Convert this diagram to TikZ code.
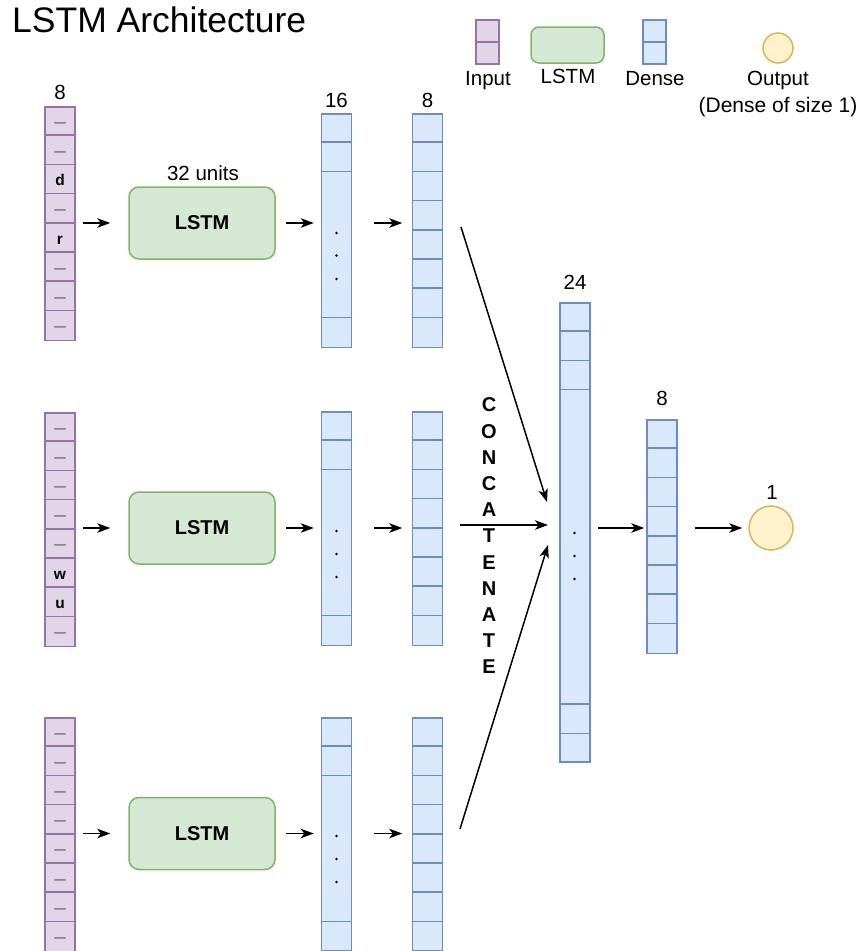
\documentclass[tikz,border=0pt]{standalone}
\usepackage{fontspec}
\setmainfont{Liberation Sans}
\usetikzlibrary{arrows.meta}
\definecolor{inFill}{HTML}{E1D5E7}
\definecolor{inDraw}{HTML}{9673A6}
\definecolor{lsFill}{HTML}{D5E8D4}
\definecolor{lsDraw}{HTML}{82B366}
\definecolor{dFill}{HTML}{DAE8FC}
\definecolor{dDraw}{HTML}{6C8EBF}
\definecolor{oFill}{HTML}{FFF2CC}
\definecolor{oDraw}{HTML}{D6B656}
\definecolor{dashGray}{HTML}{5E5E5E}
\begin{document}
\begin{tikzpicture}[x=1pt,y=-1pt,
  font=\fontsize{20.5}{24}\selectfont,
  col/.style={draw, line width=1.5pt, minimum width=30pt, inner sep=0pt, anchor=north},
  incol/.style={col, draw=inDraw, fill=inFill, minimum height=233.6pt},
  dcol/.style={col, draw=dDraw, fill=dFill},
  inline/.style={draw=inDraw, line width=1.5pt},
  dline/.style={draw=dDraw, line width=1.5pt},
  lstmbox/.style={draw=lsDraw, fill=lsFill, line width=1.5pt, rounded corners=10pt,
    minimum width=146pt, minimum height=72pt, inner sep=0pt,
    font=\fontsize{20}{24}\selectfont\bfseries},
  outcirc/.style={circle, draw=oDraw, fill=oFill, line width=1.5pt, inner sep=0pt},
  lbl/.style={anchor=base, inner sep=0pt},
  dashtxt/.style={anchor=base, inner sep=0pt, text=dashGray, font=\fontsize{11.5}{12}\selectfont\bfseries},
  celltxt/.style={anchor=base, inner sep=0pt, font=\fontsize{15.5}{16}\selectfont\bfseries},
  dotnode/.style={circle, fill=black, inner sep=0pt, minimum size=2.8pt},
  arr/.style={-{Stealth[length=13pt,width=9.5pt,inset=3.5pt]}, line width=1.5pt},
]
\useasboundingbox (0,0) rectangle (865,951);

% Title
\node[anchor=base west, inner sep=0pt, font=\fontsize{35.5}{40}\selectfont] (title) at (12,32) {LSTM Architecture};

% Legend
\node[col, draw=inDraw, fill=inFill, minimum width=23pt, minimum height=44pt] (legIn) at (487.5,19) {};
\draw[inline] (legIn.west) -- (legIn.east);
\node[draw=lsDraw, fill=lsFill, line width=1.5pt, rounded corners=8pt, minimum width=73pt, minimum height=36pt, inner sep=0pt] (legLstm) at (567.5,45) {};
\node[col, draw=dDraw, fill=dFill, minimum width=23pt, minimum height=44pt] (legD) at (654.5,19) {};
\draw[dline] (legD.west) -- (legD.east);
\node[outcirc, minimum size=30pt] (legOut) at (778,48) {};
\node[lbl] (legInT) at (488,85) {Input};
\node[lbl] (legLstmT) at (568,83) {LSTM};
\node[lbl] (legDT) at (655,85) {Dense};
\node[lbl] (legOutT) at (778,85) {Output};
\node[lbl, font=\fontsize{21}{24}\selectfont] (legOutT2) at (778,112) {(Dense of size 1)};

% ---------- Row 1 ----------
\node[incol] (in1) at (60,106) {};
\foreach \k in {1,...,7}
  \draw[inline] ([yshift=-\k*29.2pt]in1.north west) -- ([yshift=-\k*29.2pt]in1.north east);
\foreach \k in {0,1,3,5,6,7}
  \node[dashtxt] at (60,{106+29.2*\k+20}) {—};
\node[celltxt] (in1c2) at (60,{106+29.2*2+21.5}) {d};
\node[celltxt] (in1c4) at (60,{106+29.2*4+21.5}) {r};
\node[lbl] (in1n) at (60,99) {8};

\node[lstmbox] (lstm1) at (202,223) {LSTM};
\node[lbl] (lstm1u) at (203,180) {32 units};

\node[dcol, minimum height=233.6pt] (d16a) at (336.5,113) {};
\foreach \k in {1,2,7}
  \draw[dline] ([yshift=-\k*29.2pt]d16a.north west) -- ([yshift=-\k*29.2pt]d16a.north east);
\foreach \dy in {120,142.5,166}
  \node[dotnode] at (336.5,113+\dy) {};
\node[lbl] (d16an) at (336.5,107) {16};

\node[dcol, minimum height=233.6pt] (d8a) at (427.5,113) {};
\foreach \k in {1,...,7}
  \draw[dline] ([yshift=-\k*29.2pt]d8a.north west) -- ([yshift=-\k*29.2pt]d8a.north east);
\node[lbl] (d8an) at (427.5,107) {8};

\draw[arr, shorten <=7pt, shorten >=18pt] (in1.east |- lstm1.west) -- (lstm1.west);
\draw[arr, shorten <=10pt, shorten >=7pt] (lstm1.east) -- (lstm1.east -| d16a.west);
\draw[arr, shorten <=21.5pt, shorten >=9.5pt] (lstm1.east -| d16a.east) -- (lstm1.east -| d8a.west);

% ---------- Row 2 ----------
\node[incol] (in2) at (60,412) {};
\foreach \k in {1,...,7}
  \draw[inline] ([yshift=-\k*29.2pt]in2.north west) -- ([yshift=-\k*29.2pt]in2.north east);
\foreach \k in {0,1,2,3,4,7}
  \node[dashtxt] at (60,{412+29.2*\k+20}) {—};
\node[celltxt] (in2c5) at (60,{412+29.2*5+21.5}) {w};
\node[celltxt] (in2c6) at (60,{412+29.2*6+21.5}) {u};

\node[lstmbox] (lstm2) at (202,528) {LSTM};

\node[dcol, minimum height=233.6pt] (d16b) at (336.5,411) {};
\foreach \k in {1,2,7}
  \draw[dline] ([yshift=-\k*29.2pt]d16b.north west) -- ([yshift=-\k*29.2pt]d16b.north east);
\foreach \dy in {120,143,166}
  \node[dotnode] at (336.5,411+\dy) {};

\node[dcol, minimum height=233.6pt] (d8b) at (427.5,411) {};
\foreach \k in {1,...,7}
  \draw[dline] ([yshift=-\k*29.2pt]d8b.north west) -- ([yshift=-\k*29.2pt]d8b.north east);

\draw[arr, shorten <=7pt, shorten >=18pt] (in2.east |- lstm2.west) -- (lstm2.west);
\draw[arr, shorten <=10pt, shorten >=7pt] (lstm2.east) -- (lstm2.east -| d16b.west);
\draw[arr, shorten <=21.5pt, shorten >=9.5pt] (lstm2.east -| d16b.east) -- (lstm2.east -| d8b.west);

% ---------- Row 3 ----------
\node[incol] (in3) at (60,717) {};
\foreach \k in {1,...,7}
  \draw[inline] ([yshift=-\k*29.2pt]in3.north west) -- ([yshift=-\k*29.2pt]in3.north east);
\foreach \k in {0,...,7}
  \node[dashtxt] at (60,{717+29.2*\k+20}) {—};

\node[lstmbox] (lstm3) at (202,833.5) {LSTM};

\node[dcol, minimum height=233pt] (d16c) at (336.5,717) {};
\foreach \k in {1,2,7}
  \draw[dline] ([yshift=-\k*29.2pt]d16c.north west) -- ([yshift=-\k*29.2pt]d16c.north east);
\foreach \dy in {119,142,165}
  \node[dotnode] at (336.5,717+\dy) {};

\node[dcol, minimum height=233pt] (d8c) at (427.5,717) {};
\foreach \k in {1,...,7}
  \draw[dline] ([yshift=-\k*29.2pt]d8c.north west) -- ([yshift=-\k*29.2pt]d8c.north east);

\draw[arr, shorten <=7pt, shorten >=18pt] (in3.east |- lstm3.west) -- (lstm3.west);
\draw[arr, shorten <=10pt, shorten >=7pt] (lstm3.east) -- (lstm3.east -| d16c.west);
\draw[arr, shorten <=21.5pt, shorten >=9.5pt] (lstm3.east -| d16c.east) -- (lstm3.east -| d8c.west);

% ---------- Concatenate ----------
\node[dcol, minimum height=459pt] (cat) at (575,302) {};
\foreach \k in {1,2,3}
  \draw[dline] ([yshift=-\k*29.2pt]cat.north west) -- ([yshift=-\k*29.2pt]cat.north east);
\foreach \k in {1,2}
  \draw[dline] ([yshift=\k*29.2pt]cat.south west) -- ([yshift=\k*29.2pt]cat.south east);
\foreach \y in {533,556,579}
  \node[dotnode] at (574.5,\y) {};
\node[lbl] (catn) at (575,289) {24};

\node[inner sep=0pt, align=center, font=\fontsize{20}{26.2}\selectfont\bfseries] (concat) at (489,536)
  {C\\O\\N\\C\\A\\T\\E\\N\\A\\T\\E};

\coordinate (s1) at (461,227);
\coordinate (s2) at (460,525);
\coordinate (s3) at (460,829);
\coordinate (t1) at (547,502);
\coordinate (t2) at (548,525);
\coordinate (t3) at (548,545);
\draw[arr] (s1) -- (t1);
\draw[arr] (s2) -- (t2);
\draw[arr] (s3) -- (t3);

% ---------- Dense 8 and output ----------
\node[dcol, minimum height=233.6pt] (dfin) at (662,419) {};
\foreach \k in {1,...,7}
  \draw[dline] ([yshift=-\k*29.2pt]dfin.north west) -- ([yshift=-\k*29.2pt]dfin.north east);
\node[lbl] (dfinn) at (662,405) {8};

\node[outcirc, minimum size=44pt] (out) at (771,528) {};
\node[lbl] (outn) at (772,499) {1};

\draw[arr, shorten <=7pt, shorten >=2pt] (cat.east |- out.center) -- (dfin.west |- out.center);
\draw[arr, shorten <=17pt, shorten >=6pt] (dfin.east |- out.center) -- (out.west);
\end{tikzpicture}
\end{document}
